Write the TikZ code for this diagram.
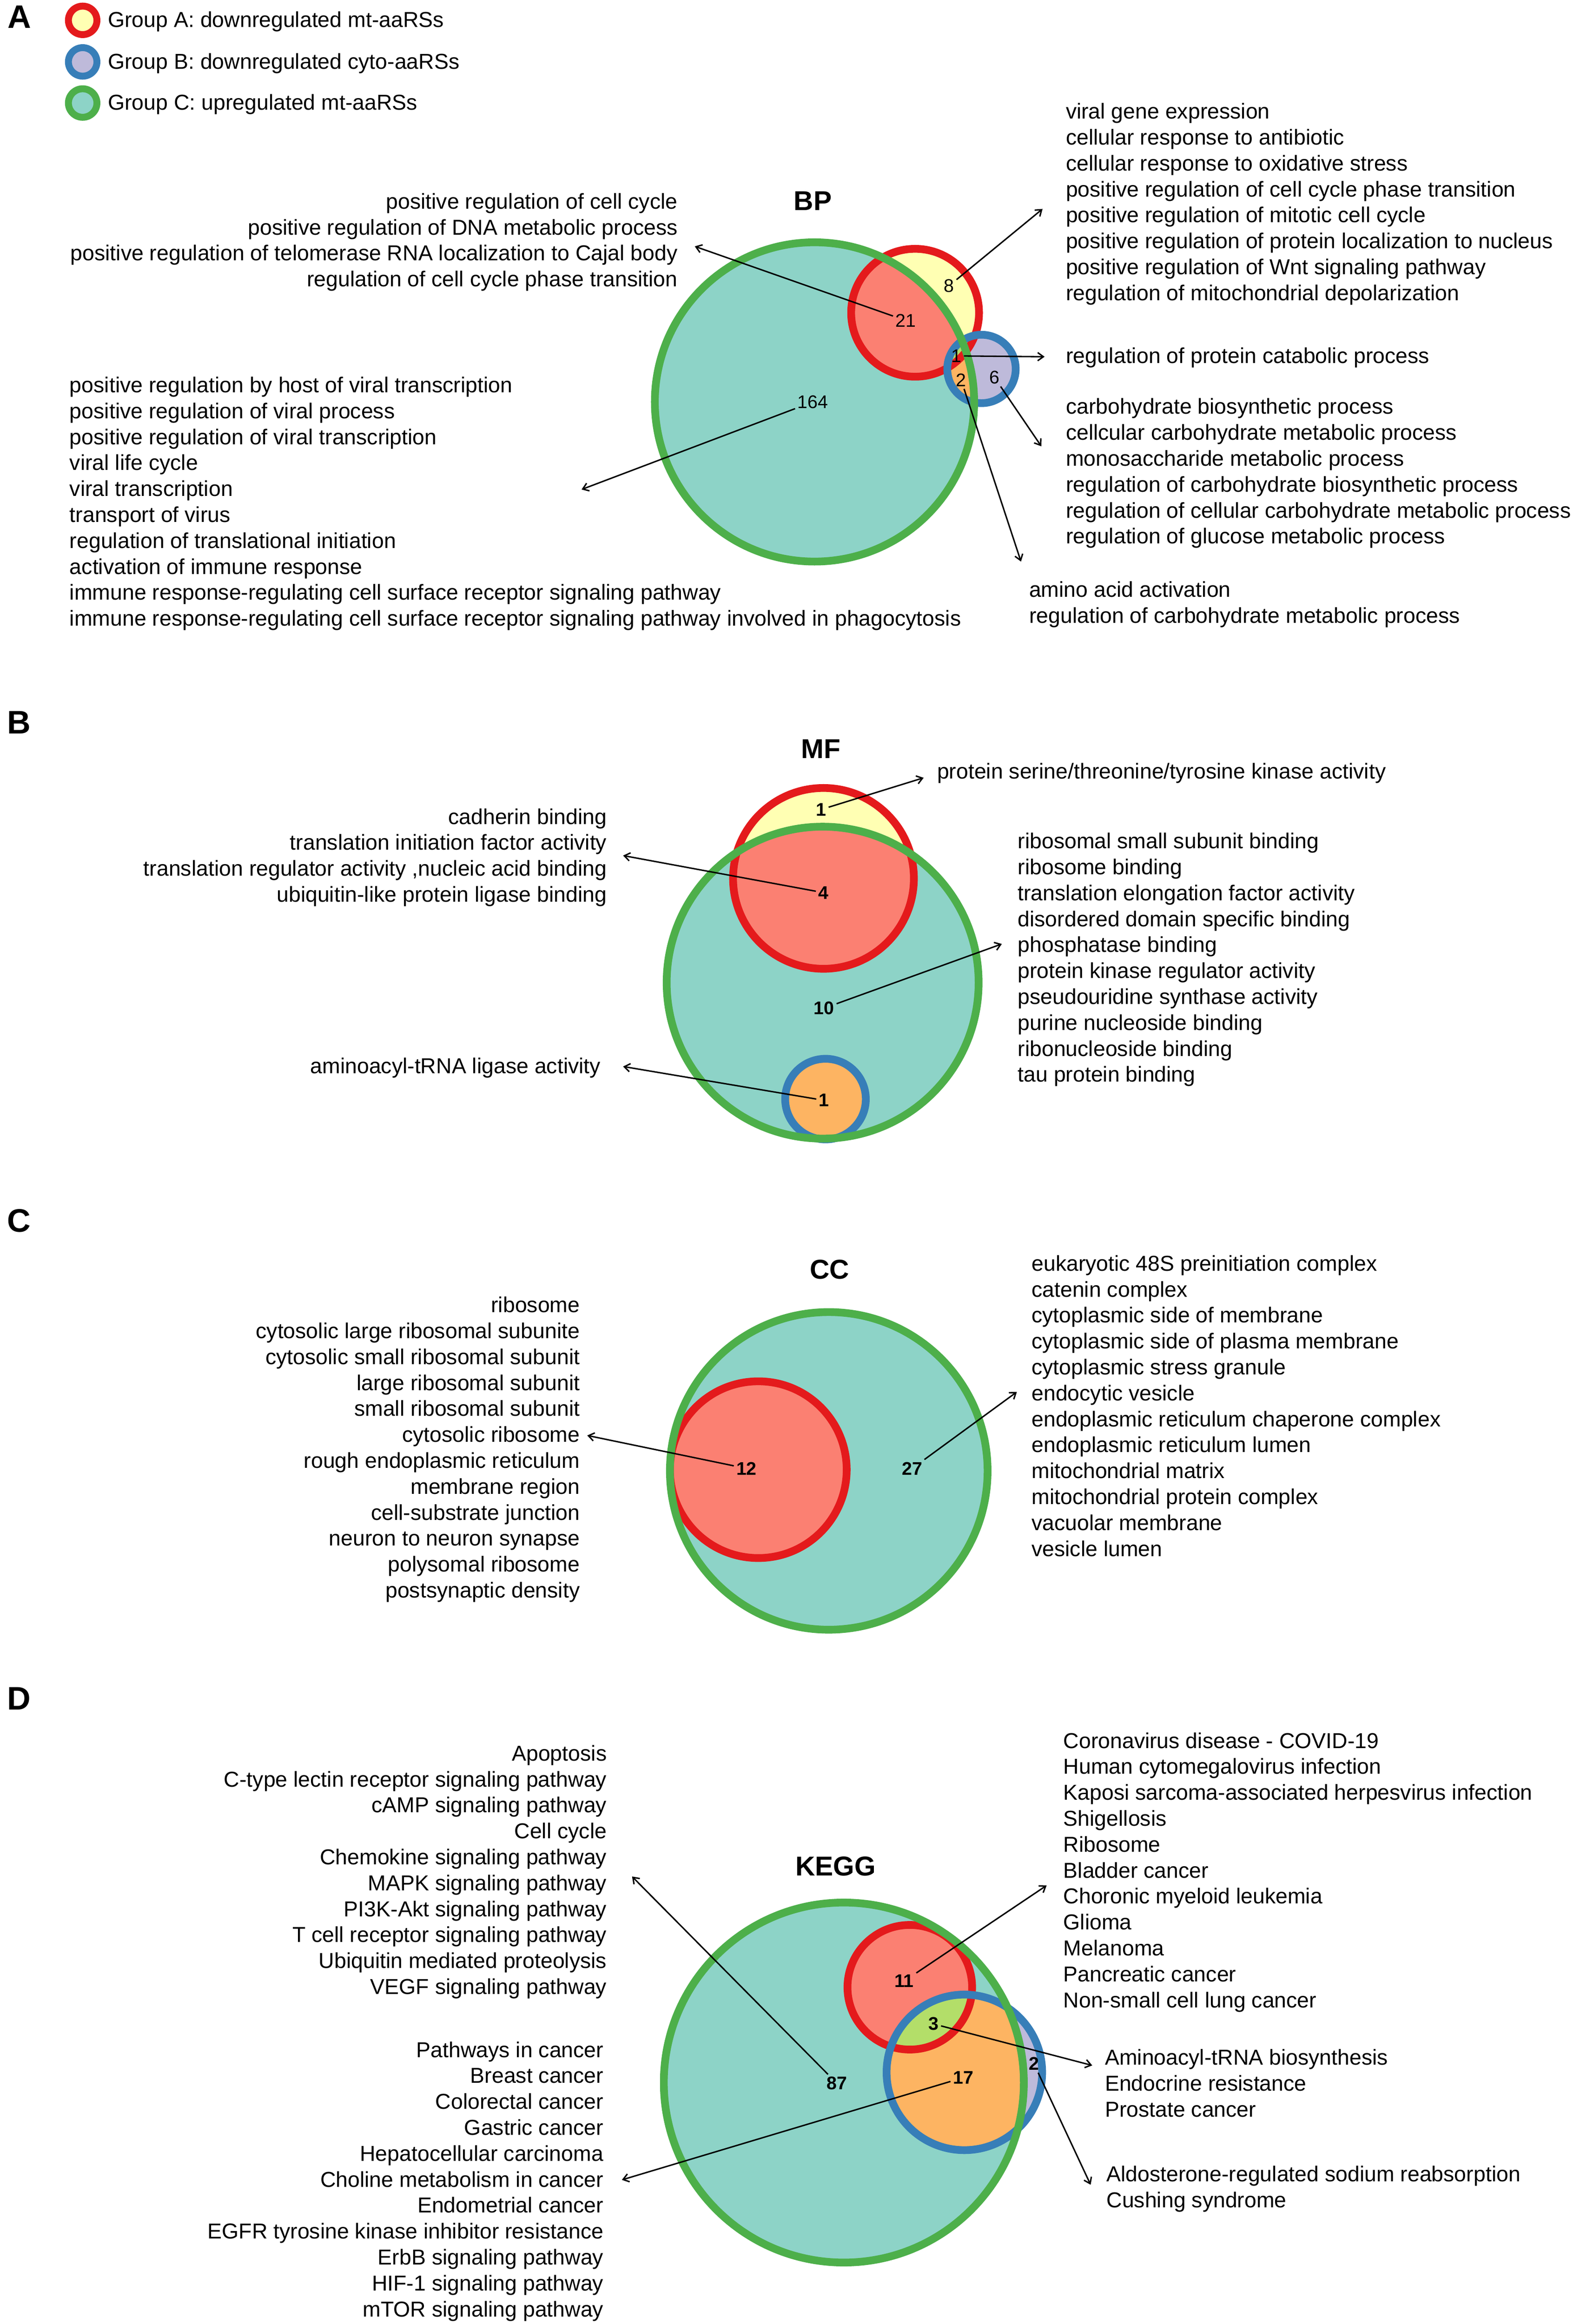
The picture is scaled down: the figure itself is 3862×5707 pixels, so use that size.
\documentclass[tikz,border=0pt]{standalone}
\usepackage{fontspec}
\setmainfont{Liberation Sans}
\usetikzlibrary{arrows.meta}
\definecolor{cteal}{HTML}{8DD3C7}
\definecolor{csalmon}{HTML}{FB8072}
\definecolor{cyellow}{HTML}{FFFFB3}
\definecolor{clav}{HTML}{BEBADA}
\definecolor{corange}{HTML}{FDB462}
\definecolor{clime}{HTML}{B3DE69}
\definecolor{cgreen}{HTML}{4DAF4A}
\definecolor{cred}{HTML}{E41A1C}
\definecolor{cblue}{HTML}{377EB8}
\begin{document}
\begin{tikzpicture}[x=1pt,y=-1pt,
  lbl/.style={inner sep=0pt, font=\fontsize{53}{63.7}\selectfont},
  lblL/.style={lbl, align=left, anchor=north west},
  lblR/.style={lbl, align=right, anchor=north east},
  num/.style={inner sep=6pt, font=\fontsize{45}{54}\selectfont},
  numb/.style={inner sep=6pt, font=\fontsize{45}{54}\selectfont\bfseries},
  ttl/.style={inner sep=0pt, font=\fontsize{67}{80}\selectfont\bfseries},
  panel/.style={inner sep=0pt, font=\fontsize{80}{96}\selectfont\bfseries},
  arr/.style={line width=3.5pt, -{Straight Barb[length=14pt,width=20pt,line width=3.5pt]}},
  gring/.style={draw=cgreen, line width=19pt},
  rring/.style={draw=cred, line width=19pt},
  bring/.style={draw=cblue, line width=19pt},
  legc/.style={circle, line width=17pt, minimum size=70pt, inner sep=0pt}
]
\fill[white] (0,0) rectangle (3862,5707);
\useasboundingbox (0,0) rectangle (3862,5707);

% ---------- Panel A legend ----------
\node[panel] (pA) at (48,42) {A};
\node[legc, draw=cred, fill=cyellow] (legAc) at (203,50) {};
\node[legc, draw=cblue, fill=clav] (legBc) at (203,152) {};
\node[legc, draw=cgreen, fill=cteal] (legCc) at (203,253) {};
\node[lbl, anchor=base west] (legA) at (265,67) {Group A: downregulated mt-aaRSs};
\node[lbl, anchor=base west] (legB) at (265,169) {Group B: downregulated cyto-aaRSs};
\node[lbl, anchor=base west] (legC) at (265,270) {Group C: upregulated mt-aaRSs};

% ---------- BP ----------
\node[ttl] (bpT) at (1996,493) {BP};
\coordinate (bpG) at (2000,987);
\coordinate (bpR) at (2247,768);
\coordinate (bpB) at (2410,906);
\fill[cteal] (bpG) circle[radius=392pt];
\fill[cyellow] (bpR) circle[radius=157pt];
\begin{scope}
  \clip (bpG) circle[radius=392pt];
  \fill[csalmon] (bpR) circle[radius=157pt];
\end{scope}
\fill[clav] (bpB) circle[radius=84pt];
\begin{scope}
  \clip (bpG) circle[radius=392pt];
  \fill[corange] (bpB) circle[radius=84pt];
  \clip (bpR) circle[radius=157pt];
  \fill[clime] (bpB) circle[radius=84pt];
\end{scope}
\draw[rring] (bpR) circle[radius=157pt];
\draw[bring] (bpB) circle[radius=84pt];
\draw[gring] (bpG) circle[radius=392pt];

\node[num] (bp164) at (1996,987) {164};
\node[num] (bp21) at (2224,787) {21};
\node[num] (bp8) at (2330,702) {8};
\node[num] (bp1) at (2348,874) {1};
\node[num] (bp2) at (2360,933) {2};
\node[num] (bp6) at (2442,927) {6};

\coordinate (bpt21) at (1706,605);
\coordinate (bpt8) at (2560,513);
\coordinate (bpt1) at (2565,876);
\coordinate (bpt6) at (2557,1096);
\coordinate (bpt2) at (2507,1379);
\coordinate (bpt164) at (1428,1202);
\draw[arr] (bp21) -- (bpt21);
\draw[arr] (bp8) -- (bpt8);
\draw[arr] (bp1) -- (bpt1);
\draw[arr] (bp6) -- (bpt6);
\draw[arr] (bp2) -- (bpt2);
\draw[arr] (bp164) -- (bpt164);

\node[lblR] (bpTL) at (1664,468) {\strut positive regulation of cell cycle\\
positive regulation of DNA metabolic process\\
positive regulation of telomerase RNA localization to Cajal body\\
regulation of cell cycle phase transition};
\node[lblL] (bpTR) at (2617,247) {\strut viral gene expression\\
cellular response to antibiotic\\
cellular response to oxidative stress\\
positive regulation of cell cycle phase transition\\
positive regulation of mitotic cell cycle\\
positive regulation of protein localization to nucleus\\
positive regulation of Wnt signaling pathway\\
regulation of mitochondrial depolarization};
\node[lblL] (bpMR) at (2617,847) {\strut regulation of protein catabolic process};
\node[lblL] (bpLR) at (2617,972) {\strut carbohydrate biosynthetic process\\
cellcular carbohydrate metabolic process\\
monosaccharide metabolic process\\
regulation of carbohydrate biosynthetic process\\
regulation of cellular carbohydrate metabolic process\\
regulation of glucose metabolic process};
\node[lblL] (bpBR) at (2527,1421) {\strut amino acid activation\\
regulation of carbohydrate metabolic process};
\node[lblL] (bpLL) at (171,919) {\strut positive regulation by host of viral transcription\\
positive regulation of viral process\\
positive regulation of viral transcription\\
viral life cycle\\
viral transcription\\
transport of virus\\
regulation of translational initiation\\
activation of immune response\\
immune response-regulating cell surface receptor signaling pathway\\
immune response-regulating cell surface receptor signaling pathway involved in phagocytosis};

% ---------- MF ----------
\node[panel] (pB) at (47,1774) {B};
\node[ttl] (mfT) at (2016,1839) {MF};
\coordinate (mfG) at (2020,2413);
\coordinate (mfR) at (2022,2157);
\coordinate (mfB) at (2027,2699);
\fill[cteal] (mfG) circle[radius=383pt];
\fill[cyellow] (mfR) circle[radius=222pt];
\begin{scope}
  \clip (mfG) circle[radius=383pt];
  \fill[csalmon] (mfR) circle[radius=222pt];
\end{scope}
\fill[corange] (mfB) circle[radius=99pt];
\draw[rring] (mfR) circle[radius=222pt];
\draw[bring] (mfB) circle[radius=99pt];
\draw[gring] (mfG) circle[radius=383pt];

\node[numb] (mf1a) at (2016,1988) {1};
\node[numb] (mf4) at (2022,2192) {4};
\node[numb] (mf10) at (2023,2476) {10};
\node[numb] (mf1b) at (2023,2702) {1};
\coordinate (mft1a) at (2268,1910);
\coordinate (mft4) at (1530,2101);
\coordinate (mft10) at (2460,2318);
\coordinate (mft1b) at (1530,2619);
\draw[arr] (mf1a) -- (mft1a);
\draw[arr] (mf4) -- (mft4);
\draw[arr] (mf10) -- (mft10);
\draw[arr] (mf1b) -- (mft1b);

\node[lblL] (mfTop) at (2301,1868) {\strut protein serine/threonine/tyrosine kinase activity};
\node[lblR] (mfL) at (1490,1979) {\strut cadherin binding\\
translation initiation factor activity\\
translation regulator activity ,nucleic acid binding\\
ubiquitin-like protein ligase binding};
\node[lblR] (mfBL) at (1475,2591) {\strut aminoacyl-tRNA ligase activity};
\node[lblL] (mfR) at (2499,2039) {\strut ribosomal small subunit binding\\
ribosome binding\\
translation elongation factor activity\\
disordered domain specific binding\\
phosphatase binding\\
protein kinase regulator activity\\
pseudouridine synthase activity\\
purine nucleoside binding\\
ribonucleoside binding\\
tau protein binding};

% ---------- CC ----------
\node[panel] (pC) at (47,2998) {C};
\node[ttl] (ccT) at (2037,3118) {CC};
\coordinate (ccG) at (2035,3612);
\coordinate (ccR) at (1862,3609);
\fill[cteal] (ccG) circle[radius=390pt];
\begin{scope}
  \clip (ccG) circle[radius=390pt];
  \fill[csalmon] (ccR) circle[radius=217pt];
\end{scope}
\begin{scope}
  \clip (ccG) circle[radius=390pt];
  \draw[rring] (ccR) circle[radius=217pt];
\end{scope}
\draw[gring] (ccG) circle[radius=390pt];

\node[numb] (cc12) at (1833,3606) {12};
\node[numb] (cc27) at (2240,3606) {27};
\coordinate (cct12) at (1442,3525);
\coordinate (cct27) at (2497,3418);
\draw[arr] (cc12) -- (cct12);
\draw[arr] (cc27) -- (cct27);

\node[lblR] (ccL) at (1424,3178) {\strut ribosome\\
cytosolic large ribosomal subunite\\
cytosolic small ribosomal subunit\\
large ribosomal subunit\\
small ribosomal subunit\\
cytosolic ribosome\\
rough endoplasmic reticulum\\
membrane region\\
cell-substrate junction\\
neuron to neuron synapse\\
polysomal ribosome\\
postsynaptic density};
\node[lblL] (ccRt) at (2533,3076) {\strut eukaryotic 48S preinitiation complex\\
catenin complex\\
cytoplasmic side of membrane\\
cytoplasmic side of plasma membrane\\
cytoplasmic stress granule\\
endocytic vesicle\\
endoplasmic reticulum chaperone complex\\
endoplasmic reticulum lumen\\
mitochondrial matrix\\
mitochondrial protein complex\\
vacuolar membrane\\
vesicle lumen};

% ---------- KEGG ----------
\node[panel] (pD) at (47,4171) {D};
\node[ttl] (kgT) at (2052,4583) {KEGG};
\coordinate (kgG) at (2072,5114);
\coordinate (kgR) at (2234,4880);
\coordinate (kgB) at (2368,5089);
\fill[cteal] (kgG) circle[radius=442pt];
\fill[cyellow] (kgR) circle[radius=153pt];
\begin{scope}
  \clip (kgG) circle[radius=442pt];
  \fill[csalmon] (kgR) circle[radius=153pt];
\end{scope}
\fill[clav] (kgB) circle[radius=191pt];
\begin{scope}
  \clip (kgG) circle[radius=442pt];
  \fill[corange] (kgB) circle[radius=191pt];
  \clip (kgR) circle[radius=153pt];
  \fill[clime] (kgB) circle[radius=191pt];
\end{scope}
\draw[rring] (kgR) circle[radius=153pt];
\draw[bring] (kgB) circle[radius=191pt];
\draw[gring] (kgG) circle[radius=442pt];

\node[numb] (kg87) at (2055,5116) {87};
\node[numb] (kg11) at (2220,4865) {11};
\node[numb] (kg3) at (2292,4970) {3};
\node[numb] (kg17) at (2365,5102) {17};
\node[numb] (kg2) at (2539,5068) {2};
\coordinate (kgt87) at (1552,4608);
\coordinate (kgt11) at (2570,4630);
\coordinate (kgt3) at (2682,5072);
\coordinate (kgt17) at (1527,5353);
\coordinate (kgt2) at (2678,5365);
\draw[arr] (kg87) -- (kgt87);
\draw[arr] (kg11) -- (kgt11);
\draw[arr] (kg3) -- (kgt3);
\draw[arr] (kg17) -- (kgt17);
\draw[arr] (kg2) -- (kgt2);

\node[lblR] (kgLU) at (1490,4279) {\strut Apoptosis\\
C-type lectin receptor signaling pathway\\
cAMP signaling pathway\\
Cell cycle\\
Chemokine signaling pathway\\
MAPK signaling pathway\\
PI3K-Akt signaling pathway\\
T cell receptor signaling pathway\\
Ubiquitin mediated proteolysis\\
VEGF signaling pathway};
\node[lblR] (kgLL) at (1482,5007) {\strut Pathways in cancer\\
Breast cancer\\
Colorectal cancer\\
Gastric cancer\\
Hepatocellular carcinoma\\
Choline metabolism in cancer\\
Endometrial cancer\\
EGFR tyrosine kinase inhibitor resistance\\
ErbB signaling pathway\\
HIF-1 signaling pathway\\
mTOR signaling pathway};
\node[lblL] (kgRU) at (2611,4248) {\strut Coronavirus disease - COVID-19\\
Human cytomegalovirus infection\\
Kaposi sarcoma-associated herpesvirus infection\\
Shigellosis\\
Ribosome\\
Bladder cancer\\
Choronic myeloid leukemia\\
Glioma\\
Melanoma\\
Pancreatic cancer\\
Non-small cell lung cancer};
\node[lblL] (kgRM) at (2713,5026) {\strut Aminoacyl-tRNA biosynthesis\\
Endocrine resistance\\
Prostate cancer};
\node[lblL] (kgRL) at (2717,5312) {\strut Aldosterone-regulated sodium reabsorption\\
Cushing syndrome};
\end{tikzpicture}
\end{document}
